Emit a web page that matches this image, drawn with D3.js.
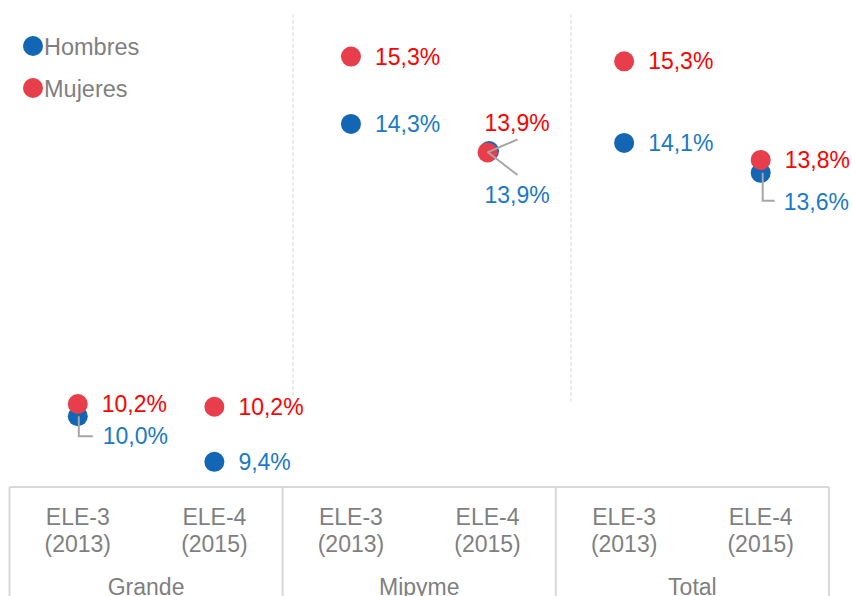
<!DOCTYPE html>
<html>
<head>
<meta charset="utf-8">
<script src="https://cdn.jsdelivr.net/npm/d3@7"></script>
<style>
  html, body { margin: 0; padding: 0; background: #fff; }
  svg { display: block; font-family: "Liberation Sans", Arial, sans-serif; }
</style>
</head>
<body>
<div id="chart"></div>
<script>
// data
const groups = ['Grande', 'Mipyme', 'Total'];
const surveys = ['ELE-3', 'ELE-4'];
const years = ['(2013)', '(2015)'];
const hombres = [10.04, 9.37, 14.34, 13.94, 14.06, 13.62];
const mujeres = [10.22, 10.18, 15.33, 13.92, 15.26, 13.81];
const seriesNames = ['Hombres', 'Mujeres'];

// label placement: 'right' = next to dot, otherwise a callout with leader line
const hLabelPos = ['below', 'right', 'right', 'diagDown', 'right', 'belowFar'];
const mLabelPos = ['right', 'right', 'right', 'diagUp', 'right', 'right'];

const width = 852, height = 596;
const dotBlue = '#1266b4', dotRed = '#e83d4b';
const txtBlue = '#1a79c8', txtRed = '#ff0000';
const grey = '#7f7f7f', lineGrey = '#d9d9d9', leader = '#a6a6a6';

const svg = d3.select('#chart').append('svg')
  .attr('width', width)
  .attr('height', height);

const x0 = d3.scaleBand().domain(groups).range([9.5, 829]);
const x1 = d3.scaleBand().domain(surveys).range([0, x0.bandwidth()]);
const y = d3.scaleLinear().domain([9, 16]).range([487, 11]);

const fmt = v => d3.format('.1f')(v).replace('.', ',') + '%';

const points = [];
groups.forEach((g, gi) => {
  surveys.forEach((s, si) => {
    const i = gi * 2 + si;
    const cx = x0(g) + x1(s) + x1.bandwidth() / 2;
    points.push({ i, cx, h: hombres[i], m: mujeres[i] });
  });
});

// dashed separators in the plot area
[293, 571].forEach((xx, k) => {
  svg.append('line')
    .attr('x1', xx).attr('x2', xx)
    .attr('y1', 14).attr('y2', k === 0 ? 395 : 402)
    .attr('stroke', lineGrey)
    .attr('stroke-width', 1)
    .attr('stroke-dasharray', '4,2');
});

// axis box
const axTop = y(9);
svg.append('line')
  .attr('x1', x0.range()[0]).attr('x2', x0.range()[1])
  .attr('y1', axTop).attr('y2', axTop)
  .attr('stroke', lineGrey).attr('stroke-width', 2);
const edges = groups.map(g => x0(g)).concat([x0.range()[1]]);
svg.selectAll('.divider')
  .data(edges)
  .enter().append('line')
  .attr('class', 'divider')
  .attr('x1', d => d).attr('x2', d => d)
  .attr('y1', axTop).attr('y2', height)
  .attr('stroke', lineGrey).attr('stroke-width', 2);

// category labels
points.forEach(p => {
  const si = p.i % 2;
  svg.append('text')
    .attr('x', p.cx).attr('y', 525)
    .attr('text-anchor', 'middle')
    .attr('font-size', 23).attr('fill', grey)
    .text(surveys[si]);
  svg.append('text')
    .attr('x', p.cx).attr('y', 552)
    .attr('text-anchor', 'middle')
    .attr('font-size', 23).attr('fill', grey)
    .text(years[si]);
});
svg.selectAll('.grp')
  .data(groups)
  .enter().append('text')
  .attr('class', 'grp')
  .attr('x', d => x0(d) + x0.bandwidth() / 2)
  .attr('y', 595)
  .attr('text-anchor', 'middle')
  .attr('font-size', 23).attr('fill', grey)
  .text(d => d);

// data labels, with leader lines where dots overlap
function drawLabel(cx, cy, val, pos, color) {
  let tx = cx + 24, ty = cy + 8;
  if (pos === 'below') {
    tx = cx + 25; ty = cy + 28;
    svg.append('polyline')
      .attr('points', `${cx + 1},${cy} ${cx + 1},${cy + 20} ${cx + 15},${cy + 20}`)
      .attr('fill', 'none').attr('stroke', leader).attr('stroke-width', 2);
  } else if (pos === 'belowFar') {
    tx = cx + 23; ty = cy + 37;
    svg.append('polyline')
      .attr('points', `${cx + 2},${cy} ${cx + 2},${cy + 28} ${cx + 14},${cy + 28}`)
      .attr('fill', 'none').attr('stroke', leader).attr('stroke-width', 2);
  } else if (pos === 'diagUp') {
    tx = cx - 3; ty = cy - 21;
    svg.append('line')
      .attr('x1', cx).attr('y1', cy).attr('x2', cx + 30).attr('y2', cy - 13)
      .attr('stroke', leader).attr('stroke-width', 2);
  } else if (pos === 'diagDown') {
    tx = cx - 3; ty = cy + 52;
    svg.append('line')
      .attr('x1', cx).attr('y1', cy + 1).attr('x2', cx + 30).attr('y2', cy + 24)
      .attr('stroke', leader).attr('stroke-width', 2);
  }
  svg.append('text')
    .attr('x', tx).attr('y', ty)
    .attr('font-size', 23).attr('fill', color)
    .text(fmt(val));
}

// Hombres dots first, Mujeres on top
svg.selectAll('.dot-h')
  .data(points)
  .enter().append('circle')
  .attr('class', 'dot-h')
  .attr('cx', d => d.cx + (hLabelPos[d.i] === 'diagDown' ? 1.5 : 0))
  .attr('cy', d => y(d.h))
  .attr('r', 10)
  .attr('fill', dotBlue);
svg.selectAll('.dot-m')
  .data(points)
  .enter().append('circle')
  .attr('class', 'dot-m')
  .attr('cx', d => d.cx)
  .attr('cy', d => y(d.m))
  .attr('r', 10)
  .attr('fill', dotRed);

points.forEach(p => {
  drawLabel(p.cx, y(p.h), p.h, hLabelPos[p.i], txtBlue);
  drawLabel(p.cx, y(p.m), p.m, mLabelPos[p.i], txtRed);
});

// legend
const legend = svg.append('g');
seriesNames.forEach((name, k) => {
  legend.append('circle')
    .attr('cx', 33).attr('cy', 46 + k * 42)
    .attr('r', 10)
    .attr('fill', k === 0 ? dotBlue : dotRed);
  legend.append('text')
    .attr('x', 44).attr('y', 54.5 + k * 42)
    .attr('font-size', 23.5).attr('fill', grey)
    .text(name);
});
</script>
</body>
</html>
